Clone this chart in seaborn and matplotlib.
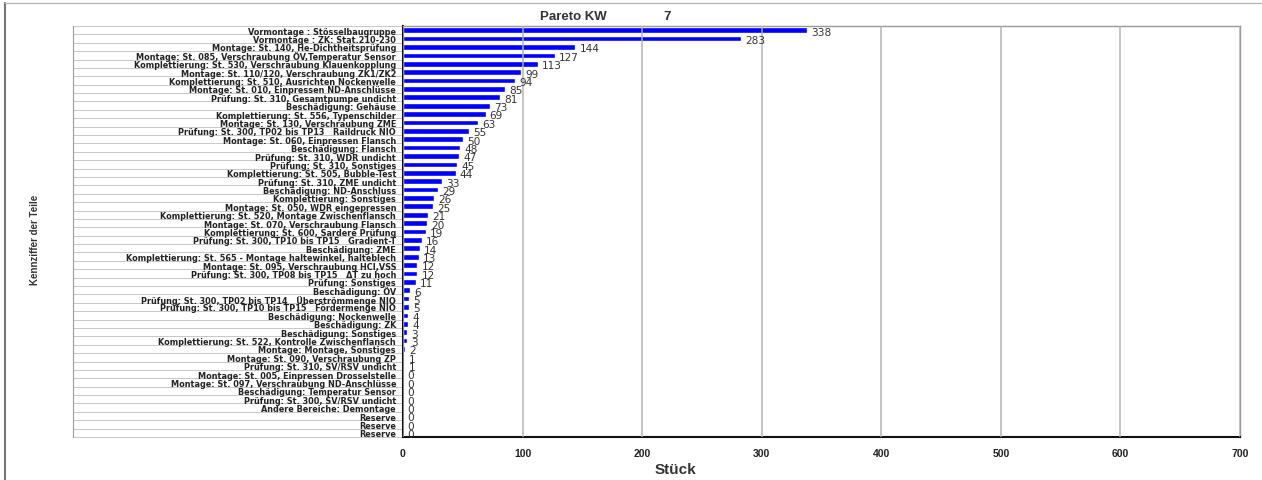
import matplotlib
matplotlib.use("Agg")
import matplotlib.pyplot as plt
import matplotlib.transforms as mtransforms
from matplotlib.lines import Line2D
import seaborn as sns
import pandas as pd

# Fehlerarten der Woche, absteigend sortiert
categories = [
    "Vormontage : Stösselbaugruppe",
    "Vormontage : ZK: Stat.210-230",
    "Montage: St. 140, He-Dichtheitsprüfung",
    "Montage: St. 085, Verschraubung ÖV,Temperatur Sensor",
    "Komplettierung: St. 530, Verschraubung Klauenkopplung",
    "Montage: St. 110/120, Verschraubung ZK1/ZK2",
    "Komplettierung: St. 510, Ausrichten Nockenwelle",
    "Montage: St. 010, Einpressen ND-Anschlüsse",
    "Prüfung: St. 310, Gesamtpumpe undicht",
    "Beschädigung: Gehäuse",
    "Komplettierung: St. 556, Typenschilder",
    "Montage: St. 130, Verschraubung ZME",
    "Prüfung: St. 300, TP02 bis TP13   Raildruck NIO",
    "Montage: St. 060, Einpressen Flansch",
    "Beschädigung: Flansch",
    "Prüfung: St. 310, WDR undicht",
    "Prüfung: St. 310, Sonstiges",
    "Komplettierung: St. 505, Bubble-Test",
    "Prüfung: St. 310, ZME undicht",
    "Beschädigung: ND-Anschluss",
    "Komplettierung: Sonstiges",
    "Montage: St. 050, WDR eingepressen",
    "Komplettierung: St. 520, Montage Zwischenflansch",
    "Montage: St. 070, Verschraubung Flansch",
    "Komplettierung: St. 600, Sardere Prüfung",
    "Prüfung: St. 300, TP10 bis TP15   Gradient-T",
    "Beschädigung: ZME",
    "Komplettierung: St. 565 - Montage haltewinkel, halteblech",
    "Montage: St. 095, Verschraubung HCI,VSS",
    "Prüfung: St. 300, TP08 bis TP15   ΔT zu hoch",
    "Prüfung: Sonstiges",
    "Beschädigung: ÖV",
    "Prüfung: St. 300, TP02 bis TP14   Überströmmenge NIO",
    "Prüfung: St. 300, TP10 bis TP15   Fördermenge NIO",
    "Beschädigung: Nockenwelle",
    "Beschädigung: ZK",
    "Beschädigung: Sonstiges",
    "Komplettierung: St. 522, Kontrolle Zwischenflansch",
    "Montage: Montage, Sonstiges",
    "Montage: St. 090, Verschraubung ZP",
    "Prüfung: St. 310, SV/RSV undicht",
    "Montage: St. 005, Einpressen Drosselstelle",
    "Montage: St. 097, Verschraubung ND-Anschlüsse",
    "Beschädigung: Temperatur Sensor",
    "Prüfung: St. 300, SV/RSV undicht",
    "Andere Bereiche: Demontage",
    "Reserve",
    "Reserve",
    "Reserve",
]
counts = [338, 283, 144, 127, 113, 99, 94, 85, 81, 73, 69, 63, 55, 50, 48, 47,
          45, 44, 33, 29, 26, 25, 21, 20, 19, 16, 14, 13, 12, 12, 11, 6, 5, 5,
          4, 4, 3, 3, 2, 1, 1, 0, 0, 0, 0, 0, 0, 0, 0]
x_ticks = [0, 100, 200, 300, 400, 500, 600, 700]

title_text = "Pareto KW"
week_text = "7"
x_title = "Stück"
y_title = "Kennziffer der Teile"

sns.set_theme(style="white")
plt.rcParams["font.family"] = ["Liberation Sans", "DejaVu Sans"]

df = pd.DataFrame({"pos": range(len(categories)), "count": counts})

W, H = 1262, 481
fig = plt.figure(figsize=(W / 100, H / 100), dpi=100)
ax = fig.add_axes([403 / W, 1 - 438 / H, (1240 - 403) / W, (438 - 27) / H])

sns.barplot(data=df, x="count", y="pos", orient="h", color="#0000ff",
            saturation=1, width=0.68, ax=ax, zorder=2)

ax.set_xlim(0, 700)
ax.set_ylim(len(categories) - 0.5, -0.5)
ax.set_xticks(x_ticks)
ax.set_xticklabels([str(t) for t in x_ticks], fontsize=7.5, fontweight="bold",
                   color="#222222")
ax.set_yticks(range(len(categories)))
ax.set_yticklabels(categories, fontsize=5.9, fontweight="bold", color="#222222",
                   family="DejaVu Sans")
ax.tick_params(axis="y", length=0, pad=5)
ax.tick_params(axis="x", length=0, pad=8)
ax.set_xlabel("")
ax.set_ylabel("")

ax.xaxis.grid(True, color="#b0b0b0", linewidth=1.3)
ax.yaxis.grid(False)
ax.set_axisbelow(False)
for gl in ax.get_xgridlines():
    gl.set_zorder(3)
    gl.set_alpha(0.8)

for side in ("top", "right"):
    ax.spines[side].set_color("#999999")
    ax.spines[side].set_linewidth(1.0)
for side in ("left", "bottom"):
    ax.spines[side].set_color("#111111")
    ax.spines[side].set_linewidth(1.5)

# value labels next to each bar
for i, v in enumerate(counts):
    ax.annotate(str(v), xy=(v, i), xytext=(3, -1), textcoords="offset points",
                ha="left", va="center", fontsize=7.6, color="#333333",
                family="DejaVu Sans", zorder=4)

# table rules in the label column
trans = mtransforms.blended_transform_factory(ax.transAxes, ax.transData)
x0 = (73 - 403) / (1240 - 403)
for b in [i - 0.5 for i in range(len(categories) + 1)]:
    ax.add_line(Line2D([x0, 0], [b, b], transform=trans, color="#c8c8c8",
                       linewidth=0.7, clip_on=False))
ax.add_line(Line2D([x0, x0], [-0.5, len(categories) - 0.5], transform=trans,
                   color="#9a9a9a", linewidth=0.8, clip_on=False))

fig.text(540 / W, 1 - 17 / H, title_text, fontsize=9.5, fontweight="bold",
         color="#333333", ha="left", va="center")
fig.text(663 / W, 1 - 17 / H, week_text, fontsize=9.5, fontweight="bold",
         color="#333333", ha="left", va="center")
fig.text(675 / W, 1 - 470 / H, x_title, fontsize=11, fontweight="bold",
         color="#333333", ha="center", va="center")
fig.text(35 / W, 1 - 240 / H, y_title, fontsize=7, fontweight="bold",
         color="#333333", rotation=90, ha="center", va="center")

# outer frame lines
fig.add_artist(Line2D([5 / W, 5 / W], [0, 1 - 4 / H], transform=fig.transFigure,
                      color="#777777", linewidth=1.5))
fig.add_artist(Line2D([5 / W, 1], [1 - 4 / H, 1 - 4 / H],
                      transform=fig.transFigure, color="#bbbbbb", linewidth=1.0))

fig.savefig("out.png", dpi=100)
